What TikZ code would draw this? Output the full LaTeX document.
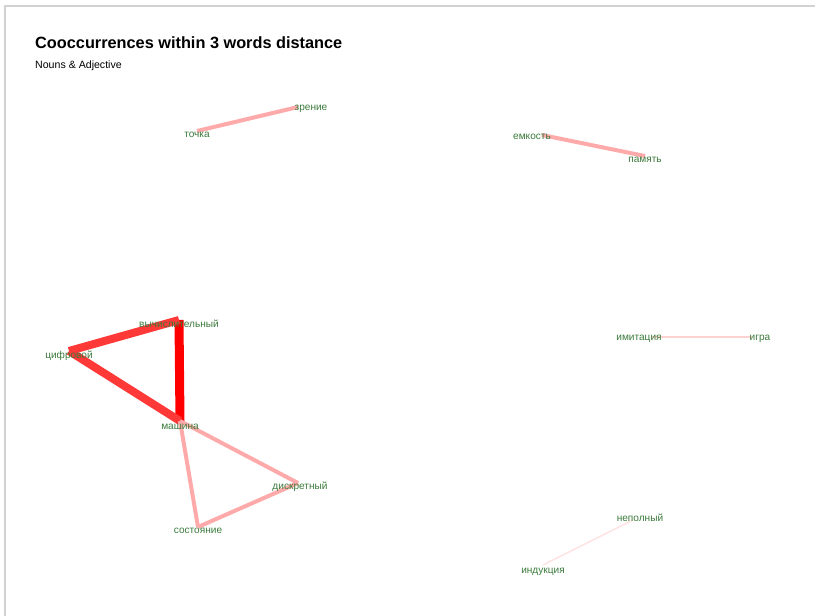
\documentclass[tikz,border=0pt]{standalone}
\usepackage{fontspec}
\setmainfont{Liberation Sans}
\usetikzlibrary{backgrounds}
\definecolor{wordgreen}{HTML}{3B7A3B}
\definecolor{framegray}{HTML}{D2D2D2}
\definecolor{edgered}  {HTML}{FF0000}
\definecolor{edgemid}  {HTML}{FF3838}
\definecolor{edgepink} {HTML}{FFAAAA}
\definecolor{edgepale} {HTML}{FFD2D2}
\definecolor{edgefaint}{HTML}{FFE2E2}
\tikzset{
  vert/.style     ={inner sep=0pt, minimum size=0pt},
  wordlab/.style  ={font=\fontsize{10.1}{12}\selectfont, text=wordgreen, inner sep=0pt, yshift=-1.5},
  titletext/.style={anchor=base west, font=\fontsize{16.3}{19}\selectfont\bfseries, inner sep=0pt},
  subtext/.style  ={anchor=base west, font=\fontsize{10.6}{12}\selectfont, inner sep=0pt},
  strong/.style   ={draw=edgered,   line width=9pt},
  heavy/.style    ={draw=edgemid,   line width=8pt},
  medium/.style   ={draw=edgepink,  line width=4pt},
  light/.style    ={draw=edgepale,  line width=2pt},
  faint/.style    ={draw=edgefaint, line width=1.5pt},
}
\begin{document}
\begin{tikzpicture}[x=1pt,y=-1pt]
    \useasboundingbox (0,0) rectangle (815,616);
    % frame
    \draw[framegray, line width=1.5pt] (5,616) -- (5,6) -- (815,6);

    % title
    \node[titletext] (title) at (35,48) {Cooccurrences within 3 words distance};
    \node[subtext]   (sub)   at (35,68) {Nouns \& Adjective};

    % words
    \node[vert, label={[wordlab,yshift=-2]center:точка}]          (tochka)  at (197,131) {};
    \node[vert, label={[wordlab,xshift=13]center:зрение}]         (zrenie)  at (298,107) {};
    \node[vert, label={[wordlab,xshift=-10]center:емкость}]       (emkost)  at (542,135) {};
    \node[vert, label={[wordlab,yshift=-2]center:память}]         (pamyat)  at (645,156) {};
    \node[vert, label={[wordlab,yshift=-2]center:вычислительный}] (vychisl) at (179,320) {};
    \node[vert, label={[wordlab,yshift=-3]center:цифровой}]       (tsifr)   at (69,351)  {};
    \node[vert, label={[wordlab,yshift=-4]center:машина}]         (mashina) at (180,421) {};
    \node[vert, label={[wordlab,xshift=2,yshift=-2]center:дискретный}] (diskr) at (298,483) {};
    \node[vert, label={[wordlab,yshift=-2]center:состояние}]      (sost)    at (198,527) {};
    \node[vert, label={[wordlab,xshift=-12]center:имитация}]      (imit)    at (651,337) {};
    \node[vert, label={[wordlab,xshift=8]center:игра}]            (igra)    at (752,337) {};
    \node[vert, label={[wordlab,xshift=7,yshift=3.5]center:неполный}] (nepoln) at (633,520) {};
    \node[vert, label={[wordlab,yshift=-5]center:индукция}]       (indukts) at (543,565) {};

    % links
    \begin{scope}[on background layer]
      \draw[strong] (vychisl.center) -- (mashina.center);
      \draw[heavy]  (tsifr.center)   -- (vychisl.center);
      \draw[heavy]  (tsifr.center)   -- (mashina.center);
      \draw[medium] (mashina.center) -- (diskr.center);
      \draw[medium] (mashina.center) -- (sost.center);
      \draw[medium] (sost.center)    -- (diskr.center);
      \draw[medium] (tochka.center)  -- (zrenie.center);
      \draw[medium] (emkost.center)  -- (pamyat.center);
      \draw[light]  (imit.center)    -- (igra.center);
      \draw[faint]  (nepoln.center)  -- (indukts.center);
    \end{scope}
  \end{tikzpicture}
\end{document}
